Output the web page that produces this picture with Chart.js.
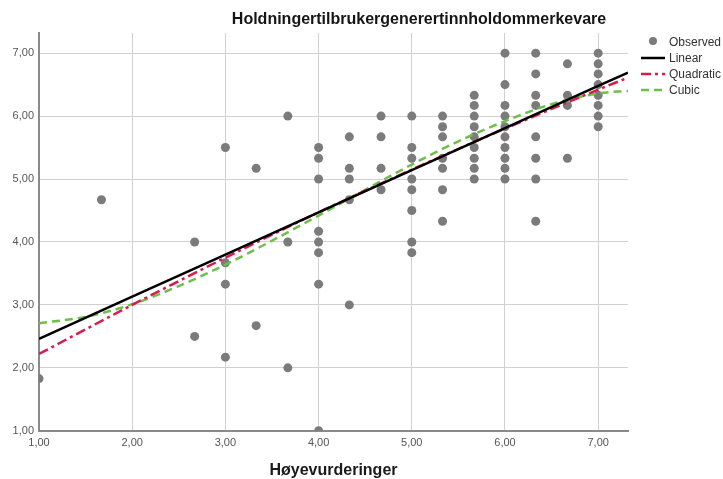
<!DOCTYPE html>
<html>
<head>
<meta charset="utf-8">
<script src="https://cdn.jsdelivr.net/npm/chart.js@4.4.1/dist/chart.umd.min.js"></script>
<style>
  html, body { margin: 0; padding: 0; background: #fff; }
  #wrap { width: 723px; height: 479px; }
</style>
</head>
<body>
<div id="wrap"><canvas id="grafico1"></canvas></div>
<script>
// observerte punkter (x = høye vurderinger, y = holdning)
let obsX = [
    1.00, 1.67,
    2.67, 2.67,
    3.00, 3.00, 3.00, 3.00,
    3.33, 3.33,
    3.67, 3.67, 3.67,
    4.00, 4.00, 4.00, 4.00, 4.00, 4.00, 4.00, 4.00,
    4.33, 4.33, 4.33, 4.33, 4.33,
    4.67, 4.67, 4.67, 4.67,
    5.00, 5.00, 5.00, 5.00, 5.00, 5.00, 5.00, 5.00,
    5.33, 5.33, 5.33, 5.33, 5.33, 5.33, 5.33,
    5.67, 5.67, 5.67, 5.67, 5.67, 5.67, 5.67, 5.67, 5.67,
    6.00, 6.00, 6.00, 6.00, 6.00, 6.00, 6.00, 6.00, 6.00, 6.00,
    6.33, 6.33, 6.33, 6.33, 6.33, 6.33, 6.33, 6.33,
    6.67, 6.67, 6.67, 6.67,
    7.00, 7.00, 7.00, 7.00, 7.00, 7.00, 7.00, 7.00
]
let obsY = [
    1.83, 4.67,
    4.00, 2.50,
    5.50, 3.67, 3.33, 2.17,
    5.17, 2.67,
    6.00, 4.00, 2.00,
    5.50, 5.33, 5.00, 4.17, 4.00, 3.83, 3.33, 1.00,
    5.67, 5.17, 5.00, 4.67, 3.00,
    6.00, 5.67, 5.17, 4.83,
    6.00, 5.50, 5.33, 5.00, 4.83, 4.50, 4.00, 3.83,
    6.00, 5.83, 5.67, 5.33, 5.17, 4.83, 4.33,
    6.33, 6.17, 6.00, 5.83, 5.67, 5.50, 5.33, 5.17, 5.00,
    7.00, 6.50, 6.17, 6.00, 5.83, 5.67, 5.50, 5.33, 5.17, 5.00,
    7.00, 6.67, 6.33, 6.17, 5.67, 5.33, 5.00, 4.33,
    6.83, 6.33, 6.17, 5.33,
    7.00, 6.83, 6.67, 6.50, 6.33, 6.17, 6.00, 5.83
]

// tilpassede linjer
let fitX = [1, 2, 3, 4, 5, 6, 7, 7.32]
let linearY = [2.46, 3.13, 3.80, 4.47, 5.14, 5.81, 6.48, 6.69]
let quadY = [2.22, 3.00, 3.75, 4.47, 5.15, 5.80, 6.42, 6.61]
let cubicX = [1, 1.5, 2, 2.5, 3, 3.5, 4, 4.5, 5, 5.5, 6, 6.5, 7, 7.32]
let cubicY = [2.71, 2.81, 3.01, 3.30, 3.64, 4.02, 4.42, 4.83, 5.23, 5.60, 5.92, 6.19, 6.36, 6.40]

let tickValues = [1, 2, 3, 4, 5, 6, 7]
let title = 'Holdningertilbrukergenerertinnholdommerkevare'
let xTitle = 'Høyevurderinger'

let pts = (xs, ys) => xs.map((x, i) => ({ x: x, y: ys[i] }))
let fmt = v => v.toFixed(2).replace('.', ',')
let setTicks = scale => { scale.ticks = tickValues.map(v => ({ value: v })) }

let font = '"Liberation Sans", Arial, sans-serif'
let grey = '#7b7b7b'

// tittel og forklaring tegnes selv
let overlay = {
    id: 'overlay',
    afterDraw(chart) {
        let c = chart.ctx
        c.save()
        c.fillStyle = '#151515'
        c.font = 'bold 16px ' + font
        c.textAlign = 'center'
        c.textBaseline = 'middle'
        c.fillText(title, 419, 20)

        c.font = '12px ' + font
        c.textAlign = 'left'
        let rows = ['Observed', 'Linear', 'Quadratic', 'Cubic']
        rows.forEach((label, i) => {
            let ds = chart.data.datasets.find(d => d.label === label)
            let y = 42 + i * 16
            if (label === 'Observed') {
                c.fillStyle = ds.backgroundColor
                c.beginPath()
                c.arc(653, y - 1, 4, 0, Math.PI * 2)
                c.fill()
            } else {
                c.strokeStyle = ds.borderColor
                c.lineWidth = ds.borderWidth
                c.setLineDash(ds.borderDash || [])
                c.beginPath()
                c.moveTo(641, y)
                c.lineTo(665, y)
                c.stroke()
                c.setLineDash([])
            }
            c.fillStyle = '#333'
            c.fillText(label, 669, y + 1)
        })
        c.restore()
    }
}

let ctx = document.getElementById('grafico1').getContext('2d')

let grafico = new Chart(ctx, {
    type: 'scatter',
    data: {
        datasets: [
            {
                label: 'Linear',
                type: 'line',
                data: pts(fitX, linearY),
                borderColor: '#000',
                borderWidth: 2.5,
                pointRadius: 0,
                tension: 0
            },
            {
                label: 'Quadratic',
                type: 'line',
                data: pts(fitX, quadY),
                borderColor: '#d81b4a',
                borderWidth: 2.5,
                borderDash: [10, 4, 3, 4],
                pointRadius: 0,
                cubicInterpolationMode: 'monotone'
            },
            {
                label: 'Cubic',
                type: 'line',
                data: pts(cubicX, cubicY),
                borderColor: '#6cc04a',
                borderWidth: 2.5,
                borderDash: [8, 5],
                pointRadius: 0,
                cubicInterpolationMode: 'monotone'
            },
            {
                label: 'Observed',
                data: pts(obsX, obsY),
                backgroundColor: grey,
                borderColor: grey,
                pointRadius: 4.5,
                pointBorderWidth: 0
            }
        ]
    },
    plugins: [overlay],
    options: {
        responsive: true,
        maintainAspectRatio: false,
        animation: false,
        layout: {
            padding: { top: 33, right: 95, bottom: 0, left: 0 }
        },
        plugins: {
            legend: { display: false },
            tooltip: { enabled: false }
        },
        scales: {
            x: {
                type: 'linear',
                min: 1,
                max: 7.32,
                afterBuildTicks: setTicks,
                grid: { color: '#d0d0d0', lineWidth: 1, drawTicks: false },
                border: { color: '#8a8a8a', width: 2 },
                ticks: {
                    padding: 6,
                    color: '#555',
                    font: { size: 11, family: font },
                    callback: fmt
                },
                title: {
                    display: true,
                    text: xTitle,
                    color: '#1a1a1a',
                    font: { size: 16, weight: 'bold', family: font, lineHeight: 1 },
                    padding: { top: 7, bottom: 0 }
                }
            },
            y: {
                type: 'linear',
                min: 1,
                max: 7.32,
                afterBuildTicks: setTicks,
                afterFit: scale => { scale.width = 39 },
                grid: { color: '#d0d0d0', lineWidth: 1, drawTicks: false },
                border: { color: '#8a8a8a', width: 2 },
                ticks: {
                    padding: 5,
                    color: '#555',
                    font: { size: 11, family: font },
                    callback: fmt
                }
            }
        }
    }
})
</script>
</body>
</html>
